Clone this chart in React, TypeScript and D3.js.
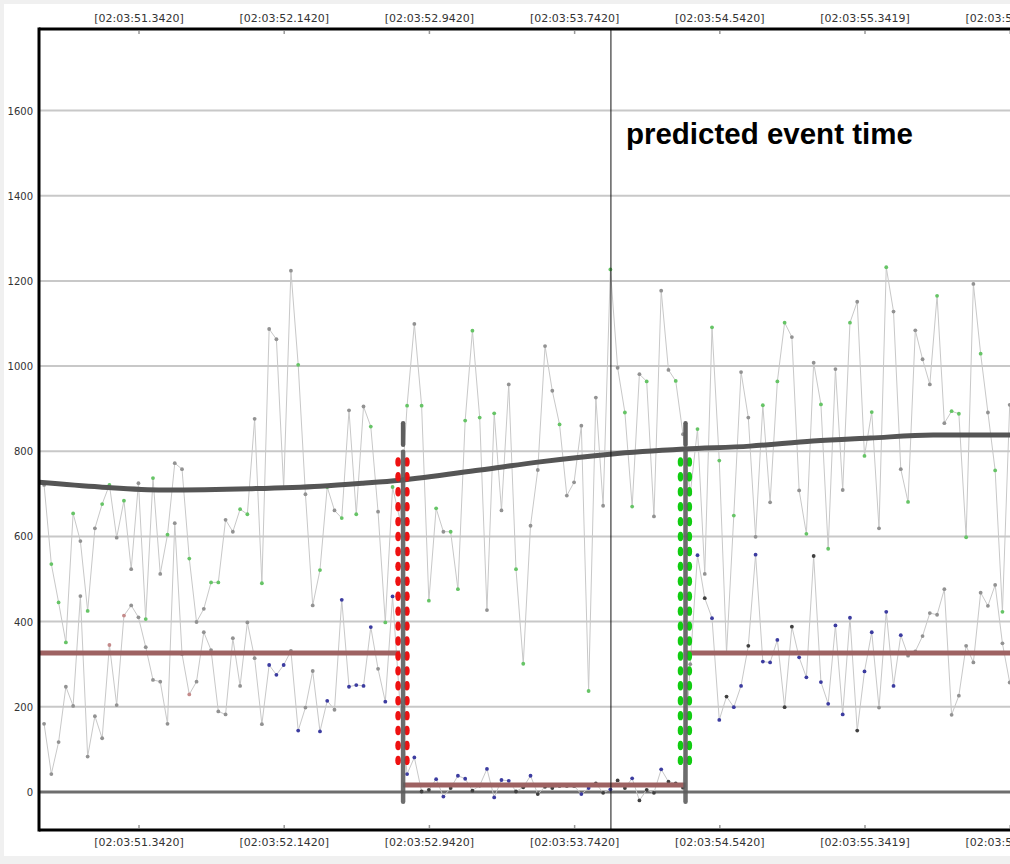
import React from "react";
import * as d3 from "d3";

const timeTicks = [51.342, 52.142, 52.942, 53.742, 54.542, 55.3419, 56.1419];
const timeTickLabels = [
  "[02:03:51.3420]",
  "[02:03:52.1420]",
  "[02:03:52.9420]",
  "[02:03:53.7420]",
  "[02:03:54.5420]",
  "[02:03:55.3419]",
  "[02:03:56.1419]",
];
const valueTicks = [0, 200, 400, 600, 800, 1000, 1200, 1400, 1600];
const timeDomain = [50.791, 56.306];
const valueDomain = [-89.4, 1791.5];

const sampleStart = 50.819;
const samplePeriod = 0.04;

const upperValues = [
  721, 535, 445, 351, 654, 589, 425, 619, 676, 721,
  597, 684, 523, 725, 406, 737, 512, 604, 772, 758,
  548, 399, 430, 492, 492, 639, 611, 664, 652, 876,
  490, 1087, 1063, 714, 1224, 1003, 699, 438, 521, 716,
  661, 643, 896, 652, 905, 858, 658, 398, 716, 640,
  907, 1099, 907, 449, 666, 611, 611, 476, 872, 1083,
  879, 427, 889, 661, 957, 523, 301, 625, 756, 1047,
  942, 863, 696, 727, 860, 237, 926, 672, 1227, 996,
  891, 670, 981, 964, 647, 1177, 991, 965, 840, 700,
  852, 512, 1091, 778, 326, 649, 986, 879, 599, 908,
  680, 964, 1102, 1068, 708, 606, 1008, 910, 571, 993,
  709, 1102, 1151, 789, 892, 619, 1232, 1128, 758, 681,
  1084, 1016, 957, 1165, 866, 894, 888, 598, 1193, 1029,
  891, 755, 423, 909,
];
const upperClasses =
  "nggggngngg" + "ngnnggngnn" + "gnnggnnggn" + "gnnnngnngg" + "ngngngnggn" +
  "gngggngggg" + "gngnnggnnn" + "ngnnngnngn" + "ggngnnngnn" + "gnggngnnng" +
  "nggnngnggn" + "ngnggngnng" + "nnngngggng" + "nggn";

const lowerValues = [
  160, 42, 117, 247, 202, 460, 83, 178, 126, 345,
  204, 414, 438, 410, 340, 263, 259, 160, 631, 324,
  229, 259, 375, 333, 189, 182, 361, 249, 398, 314,
  159, 298, 275, 298, 331, 144, 198, 284, 142, 214,
  193, 451, 247, 251, 249, 387, 289, 212, 459, 210,
  42, 81, 1, 5, 30, -11, 9, 38, 31, 3,
  15, 54, -13, 28, 26, 1, 11, 38, -5, 12,
  9, 14, 14, 14, -5, 9, 20, -2, 6, 27,
  9, 32, -20, 5, -2, 53, 24, 20, 10, 300,
  556, 455, 408, 169, 224, 199, 249, 343, 557, 306,
  304, 357, 199, 388, 316, 269, 554, 258, 207, 391,
  182, 409, 144, 283, 375, 198, 423, 249, 368, 320,
  330, 366, 420, 416, 476, 181, 226, 343, 304, 468,
  437, 486, 349, 257,
];
const lowerClasses =
  "nnnnnnnnnp" + "npnnnnnnnn" + "pnnnnnnnnn" + "nbbbnbnnbb" + "nbbbbbnbbn" +
  "bbddbbdbbd" + "dbbbbddbdd" + "ddddbbddbd" + "dbdddbdddn" + "bdbbdbbdbb" +
  "bbddbbdbbb" + "bbdbbnbbbn" + "nnnnnnnnnn" + "nnnn";

const trendTimes = [
  50.791, 51.127, 51.474, 51.954, 52.339, 52.576, 52.78, 53.221, 53.551,
  53.937, 54.345, 54.708, 55.055, 55.37, 55.717, 56.141, 56.306,
];
const trendValues = [
  727, 716, 709, 712, 718, 725, 732, 756, 775, 793, 805, 812, 824, 831, 838, 838, 838,
];

const baselineStarts = [50.791, 52.797, 54.36];
const baselineEnds = [52.78, 54.353, 56.306];
const baselineLevels = [326, 16, 326];

const eventTime = 53.942;
const eventLabel = "predicted event time";

const windowTimes = [52.797, 54.353];
const windowColors = ["#ee1111", "#11cc11"];
const markerTop = 866;
const markerGapTop = 815;
const markerGapBottom = 799;
const markerBottom = -23;
const dotTop = 775;
const dotBottom = 74;
const dotRows = 21;

const classColor: Record<string, string> = {
  g: "#66c466",
  n: "#929292",
  b: "#3c3ca0",
  d: "#404040",
  p: "#c48a8a",
};

export default function App() {
  const W = 1010;
  const H = 864;
  const left = 39;
  const right = 1040;
  const top = 29;
  const bottom = 830;

  const x = d3.scaleLinear().domain(timeDomain).range([left, right]);
  const y = d3.scaleLinear().domain(valueDomain).range([bottom, top]);

  const t = (i: number) => sampleStart + i * samplePeriod;
  const seriesLine = d3
    .line<number>()
    .x((_, i) => x(t(i)))
    .y((v) => y(v));

  const trendLine = d3
    .line<number>()
    .x((_, i) => x(trendTimes[i]))
    .y((v) => y(v))
    .curve(d3.curveMonotoneX);

  const dotLevels = d3.range(dotRows).map(
    (k) => dotTop + ((dotBottom - dotTop) * k) / (dotRows - 1)
  );

  const font = "'DejaVu Sans', Tahoma, sans-serif";

  return (
    <svg
      width={W}
      height={H}
      style={{ position: "absolute", left: 0, top: 0, display: "block" }}
    >
      <defs>
        <clipPath id="plot">
          <rect x={left} y={top} width={right - left} height={bottom - top} />
        </clipPath>
      </defs>
      <rect x={0} y={0} width={W} height={H} fill="#f0f0f0" />
      <rect x={4} y={4} width={W - 4} height={852} fill="#ffffff" />

      <g clipPath="url(#plot)">
        {valueTicks
          .filter((v) => v !== 0)
          .map((v) => (
            <line
              key={v}
              x1={left}
              x2={right}
              y1={y(v)}
              y2={y(v)}
              stroke="#c8c8c8"
              strokeWidth={2}
            />
          ))}
        <line
          x1={left}
          x2={right}
          y1={y(0)}
          y2={y(0)}
          stroke="#6e6e6e"
          strokeWidth={3}
        />

        {timeTicks.map((tt) => (
          <g key={tt}>
            <line x1={x(tt)} x2={x(tt)} y1={top + 2} y2={top + 5} stroke="#999" strokeWidth={1.5} />
            <line x1={x(tt)} x2={x(tt)} y1={bottom - 5} y2={bottom - 2} stroke="#999" strokeWidth={1.5} />
          </g>
        ))}

        <path d={seriesLine(lowerValues) || ""} fill="none" stroke="#c8c8c8" strokeWidth={1} />
        <path d={seriesLine(upperValues) || ""} fill="none" stroke="#c8c8c8" strokeWidth={1} />
        {lowerValues.map((v, i) => (
          <circle key={"l" + i} cx={x(t(i))} cy={y(v)} r={1.9} fill={classColor[lowerClasses[i]]} />
        ))}
        {upperValues.map((v, i) => (
          <circle key={"u" + i} cx={x(t(i))} cy={y(v)} r={1.9} fill={classColor[upperClasses[i]]} />
        ))}

        <path
          d={trendLine(trendValues) || ""}
          fill="none"
          stroke="#555555"
          strokeWidth={5}
          strokeLinecap="round"
        />

        {baselineLevels.map((lv, k) => (
          <line
            key={k}
            x1={x(baselineStarts[k])}
            x2={x(baselineEnds[k])}
            y1={y(lv)}
            y2={y(lv)}
            stroke="#9e6262"
            strokeWidth={5}
          />
        ))}

        {windowTimes.map((wt, k) => (
          <g key={wt}>
            {dotLevels.map((lv) => (
              <g key={lv}>
                <ellipse cx={x(wt) - 5} cy={y(lv)} rx={2.8} ry={4.7} fill={windowColors[k]} />
                <ellipse cx={x(wt) + 3.8} cy={y(lv)} rx={2.8} ry={4.7} fill={windowColors[k]} />
              </g>
            ))}
            <line
              x1={x(wt)}
              x2={x(wt)}
              y1={y(markerTop)}
              y2={y(markerGapTop)}
              stroke="#5e5e5e"
              strokeWidth={4.5}
              strokeLinecap="round"
            />
            <line
              x1={x(wt)}
              x2={x(wt)}
              y1={y(markerGapBottom)}
              y2={y(markerBottom)}
              stroke="#5e5e5e"
              strokeWidth={4.5}
              strokeLinecap="round"
              opacity={0.9}
            />
          </g>
        ))}

        <line
          x1={x(eventTime)}
          x2={x(eventTime)}
          y1={top}
          y2={bottom}
          stroke="#111"
          strokeWidth={1}
        />
      </g>

      <text
        x={x(eventTime) + 15}
        y={144}
        fontFamily="'Liberation Sans', Arial, sans-serif"
        fontWeight="bold"
        fontSize={29.5}
        fill="#000"
      >
        {eventLabel}
      </text>

      <line x1={left} x2={left} y1={top - 1.5} y2={bottom + 1.5} stroke="#000" strokeWidth={3} />
      <line x1={left} x2={right} y1={top} y2={top} stroke="#000" strokeWidth={3} />
      <line x1={left} x2={right} y1={bottom} y2={bottom} stroke="#000" strokeWidth={3} />

      {valueTicks.map((v) => (
        <text
          key={v}
          x={33}
          y={y(v) + 4}
          textAnchor="end"
          fontFamily={font}
          fontSize={10}
          fill="#333"
        >
          {v}
        </text>
      ))}

      {timeTicks.map((tt, k) => (
        <g key={tt}>
          <text x={x(tt)} y={22} textAnchor="middle" fontFamily={font} fontSize={11} fill="#333">
            {timeTickLabels[k]}
          </text>
          <text x={x(tt)} y={846} textAnchor="middle" fontFamily={font} fontSize={11} fill="#333">
            {timeTickLabels[k]}
          </text>
        </g>
      ))}
    </svg>
  );
}
